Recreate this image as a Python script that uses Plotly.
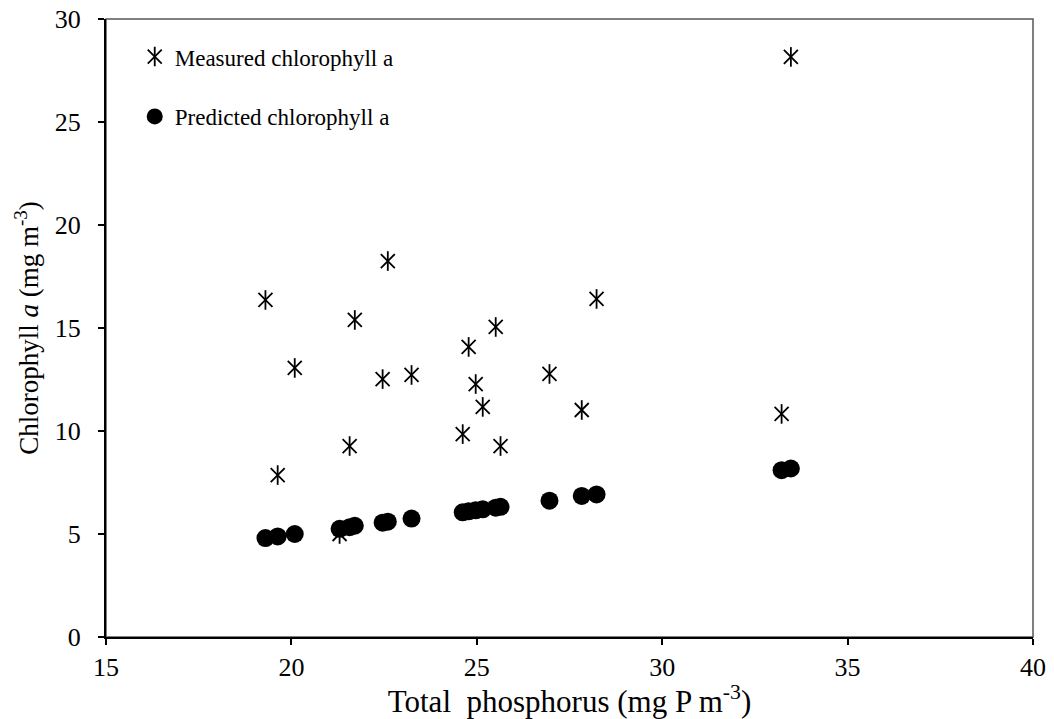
import plotly.graph_objects as go

# Total phosphorus (mg P m-3) for each sample
tp = [19.30, 19.63, 20.09, 21.30, 21.57, 21.71, 22.46, 22.60, 23.24, 24.62,
      24.78, 24.97, 25.16, 25.51, 25.64, 26.96, 27.83, 28.23, 33.22, 33.47]

# Measured chlorophyll a (mg m-3)
chl_measured = [16.36, 7.86, 13.06, 5.00, 9.27, 15.39, 12.52, 18.25, 12.72, 9.85,
                14.08, 12.28, 11.17, 15.05, 9.27, 12.77, 11.02, 16.41, 10.83, 28.16]

# Predicted chlorophyll a (mg m-3)
chl_predicted = [4.80, 4.88, 5.00, 5.25, 5.33, 5.40, 5.55, 5.60, 5.75, 6.05,
                 6.10, 6.15, 6.20, 6.28, 6.32, 6.62, 6.85, 6.92, 8.10, 8.18]

x_ticks = [15, 20, 25, 30, 35, 40]
y_ticks = [0, 5, 10, 15, 20, 25, 30]

FONT = "Liberation Serif, Times New Roman, serif"
star_size = 14
star_width = 1.8

fig = go.Figure()

# six-armed star: diagonal cross plus a vertical bar
fig.add_trace(go.Scatter(
    x=tp, y=chl_measured, mode="markers", name="Measured chlorophyll a",
    marker=dict(symbol="x-thin-open", size=star_size, color="black",
                line=dict(color="black", width=star_width)),
    legend="legend",
))
fig.add_trace(go.Scatter(
    x=tp, y=chl_measured, mode="markers", name=" ",
    marker=dict(symbol="line-ns-open", size=star_size, color="black",
                line=dict(color="black", width=star_width)),
    legend="legend3",
))
fig.add_trace(go.Scatter(
    x=tp, y=chl_predicted, mode="markers", name="Predicted chlorophyll a",
    marker=dict(symbol="circle", size=18, color="black"),
    legend="legend2",
))

axis_common = dict(
    showgrid=False, zeroline=False, showline=True, linecolor="black", linewidth=2,
    ticks="outside", ticklen=6, tickwidth=1.5, tickcolor="black", automargin=False,
    tickfont=dict(family=FONT, size=26, color="black"),
)

fig.update_xaxes(
    range=[15, 40], tickvals=x_ticks, ticktext=[str(v) for v in x_ticks],
    title=dict(text="Total\u00a0 phosphorus (mg P m<sup>-3</sup>)",
               font=dict(family=FONT, size=31, color="black"), standoff=0),
    **axis_common,
)
fig.update_yaxes(
    range=[0, 30], tickvals=y_ticks, ticktext=[str(v) for v in y_ticks],
    ticklabelstandoff=12,
    title=dict(text="Chlorophyll <i>a</i> (mg m<sup>-3</sup>)",
               font=dict(family=FONT, size=27, color="black"), standoff=8),
    **axis_common,
)

legend_font = dict(family=FONT, size=23, color="black")
legend_common = dict(xanchor="left", yanchor="top", bgcolor="rgba(0,0,0,0)",
                     font=legend_font, itemwidth=30)

fig.update_layout(
    width=1054, height=719,
    margin=dict(l=106, r=21, t=19, b=82),
    paper_bgcolor="white", plot_bgcolor="white",
    showlegend=True,
    legend=dict(x=0.031, y=0.974, **legend_common),
    legend2=dict(x=0.031, y=0.877, **legend_common),
    legend3=dict(x=0.031, y=0.974, **legend_common),
    shapes=[dict(type="rect", xref="paper", yref="paper", x0=0, x1=1, y0=0, y1=1,
                 line=dict(color="#555555", width=1.5), layer="below")],
)

fig.write_html("out.html")
